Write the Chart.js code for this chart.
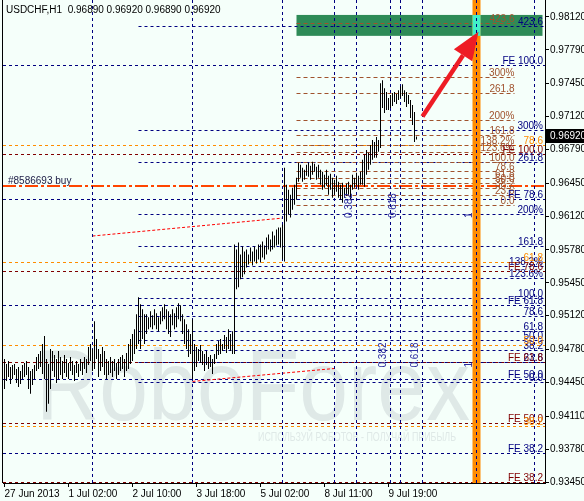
<!DOCTYPE html>
<html>
<head>
<meta charset="utf-8">
<script src="https://cdn.jsdelivr.net/npm/chart.js@4.4.1/dist/chart.umd.min.js"></script>
<style>
html, body { margin: 0; padding: 0; background: #f5fffa; }
canvas { display: block; }
</style>
</head>
<body>
<canvas id="chart" width="584" height="501"></canvas>
<script>
const symbolTitle = "USDCHF,H1";
const lastBar = [0.96890, 0.96920, 0.96890, 0.96920];

const xTickBars = [0, 32, 64, 96, 128, 160, 192];
const xTickLabels = ["27 Jun 2013", "1 Jul 02:00", "2 Jul 10:00", "3 Jul 18:00", "5 Jul 02:00", "8 Jul 11:00", "9 Jul 19:00"];
const yTicks = [0.98120, 0.97790, 0.97450, 0.97120, 0.96790, 0.96450, 0.96120, 0.95780,
                0.95450, 0.95120, 0.94780, 0.94450, 0.94110, 0.93780, 0.93450];

// hourly bars, high / low
const highs = [
  0.94685, 0.94635, 0.94665, 0.94605, 0.94625, 0.94635, 0.94585, 0.94605, 0.94565, 0.94625,
  0.94645, 0.94665, 0.94605, 0.94565, 0.94585, 0.94625, 0.94705, 0.94735, 0.94765, 0.94835,
  0.94915, 0.94685, 0.94635, 0.94785, 0.94765, 0.94725, 0.94685, 0.94765, 0.94705, 0.94665,
  0.94725, 0.94685, 0.94645, 0.94705, 0.94665, 0.94625, 0.94665, 0.94635, 0.94685, 0.94655,
  0.94705, 0.94685, 0.94805, 0.94835, 0.94785, 0.95065, 0.94885, 0.94785, 0.94735, 0.94805,
  0.94765, 0.94685, 0.94665, 0.94705, 0.94665, 0.94685, 0.94645, 0.94685, 0.94705, 0.94725,
  0.94685, 0.94745, 0.94835, 0.94885, 0.94935, 0.94985, 0.95135, 0.95305, 0.95235, 0.95185,
  0.95135, 0.95135, 0.95105, 0.95165, 0.95125, 0.95185, 0.95145, 0.95105, 0.95165, 0.95205,
  0.95235, 0.95185, 0.95165, 0.95135, 0.95185, 0.95145, 0.95205, 0.95245, 0.95225, 0.95135,
  0.95085, 0.95035, 0.94985, 0.94935, 0.95085, 0.94835, 0.94805, 0.94785, 0.94825, 0.94765,
  0.94735, 0.94765, 0.94705, 0.94725, 0.94685, 0.94735, 0.94835, 0.94865, 0.94885, 0.94835,
  0.94925, 0.94905, 0.94985, 0.94935, 0.94965, 0.95835, 0.95785, 0.95855, 0.95735, 0.95815,
  0.95765, 0.95785, 0.95735, 0.95805, 0.95765, 0.95815, 0.95785, 0.95835, 0.95835, 0.95865,
  0.95825, 0.95905, 0.95935, 0.95885, 0.95965, 0.95925, 0.95985, 0.96005, 0.96005, 0.96035,
  0.96605, 0.96435, 0.96385, 0.96335, 0.96405, 0.96435, 0.96505, 0.96655, 0.96635, 0.96605,
  0.96585, 0.96635, 0.96655, 0.96625, 0.96665, 0.96645, 0.96615, 0.96635, 0.96585, 0.96565,
  0.96535, 0.96585, 0.96525, 0.96545, 0.96505, 0.96485, 0.96525, 0.96465, 0.96435, 0.96455,
  0.96405, 0.96445, 0.96465, 0.96435, 0.96535, 0.96505, 0.96555, 0.96525, 0.96565, 0.96685,
  0.96735, 0.96785, 0.96755, 0.96835, 0.96885, 0.96865, 0.96915, 0.96885, 0.97455, 0.97485,
  0.97405, 0.97365, 0.97305, 0.97335, 0.97355, 0.97365, 0.97345, 0.97385, 0.97425, 0.97445,
  0.97385, 0.97365, 0.97335, 0.97285, 0.97235, 0.97165, 0.96920
];
const lows = [
  0.94385, 0.94465, 0.94505, 0.94435, 0.94485, 0.94525, 0.94445, 0.94405, 0.94435, 0.94485,
  0.94505, 0.94525, 0.94385, 0.94335, 0.94425, 0.94485, 0.94565, 0.94585, 0.94605, 0.94535,
  0.94485, 0.94155, 0.94235, 0.94385, 0.94565, 0.94505, 0.94445, 0.94485, 0.94525, 0.94485,
  0.94545, 0.94505, 0.94485, 0.94565, 0.94525, 0.94465, 0.94545, 0.94505, 0.94565, 0.94525,
  0.94585, 0.94545, 0.94625, 0.94665, 0.94565, 0.94585, 0.94685, 0.94505, 0.94565, 0.94605,
  0.94525, 0.94485, 0.94525, 0.94545, 0.94505, 0.94565, 0.94485, 0.94525, 0.94565, 0.94585,
  0.94505, 0.94565, 0.94585, 0.94635, 0.94665, 0.94735, 0.94785, 0.94835, 0.94785, 0.94885,
  0.94835, 0.94935, 0.94985, 0.95005, 0.94985, 0.95025, 0.94985, 0.94965, 0.95035, 0.95065,
  0.95085, 0.94985, 0.94935, 0.94905, 0.95025, 0.94985, 0.95005, 0.95085, 0.95065, 0.94935,
  0.94835, 0.94785, 0.94705, 0.94735, 0.94485, 0.94565, 0.94605, 0.94665, 0.94645, 0.94625,
  0.94565, 0.94625, 0.94585, 0.94605, 0.94535, 0.94635, 0.94685, 0.94725, 0.94735, 0.94765,
  0.94785, 0.94745, 0.94785, 0.94765, 0.94735, 0.94735, 0.95385, 0.95405, 0.95485, 0.95505,
  0.95535, 0.95605, 0.95635, 0.95665, 0.95625, 0.95665, 0.95645, 0.95685, 0.95655, 0.95705,
  0.95685, 0.95735, 0.95785, 0.95765, 0.95785, 0.95805, 0.95825, 0.95835, 0.95805, 0.95685,
  0.95665, 0.96065, 0.96135, 0.96105, 0.96185, 0.96235, 0.96285, 0.96465, 0.96505, 0.96465,
  0.96485, 0.96525, 0.96515, 0.96485, 0.96535, 0.96565, 0.96485, 0.96505, 0.96435, 0.96385,
  0.96405, 0.96425, 0.96335, 0.96385, 0.96305, 0.96335, 0.96365, 0.96305, 0.96285, 0.96255,
  0.96305, 0.96325, 0.96335, 0.96285, 0.96385, 0.96405, 0.96425, 0.96385, 0.96435, 0.96435,
  0.96415, 0.96535, 0.96585, 0.96635, 0.96685, 0.96705, 0.96705, 0.96765, 0.96805, 0.97205,
  0.97155, 0.97185, 0.97185, 0.97205, 0.97225, 0.97265, 0.97245, 0.97285, 0.97305, 0.97325,
  0.97265, 0.97215, 0.97245, 0.97105, 0.97035, 0.96865, 0.96890
];

// fibonacci objects
const fiboLabels = ["0.0", "23.6", "38.2", "50.0", "61.8", "78.6", "100.0", "123.6%", "138.2%", "161.8", "200%", "261.8", "300%", "423.6"];
const fiboBrown = [0.9623, 0.9633, 0.9640, 0.9645, 0.9650, 0.9657, 0.9666, 0.9676, 0.9683, 0.9693, 0.9709, 0.9736, 0.9752, 0.9806];
const fiboNavy = [0.9445, 0.9465, 0.9478, 0.9488, 0.9497, 0.9512, 0.9530, 0.9550, 0.9562, 0.9582, 0.9614, 0.9666, 0.9698, 0.9803];
const brownFrom = 146, brownTo = 255, navyFrom = 67;

const expLabels = ["FE 100.0", "FE 78.6", "FE 61.8", "FE 50.0", "FE 38.2"];
const expNavy = [0.9764, 0.9629, 0.9523, 0.9448, 0.9374];
const expMaroon = [0.9674, 0.9557, 0.9466, 0.9404, 0.9345];

const retrLabels = ["78.6", "61.8", "50.0", "38.2"];
const retrOrange = [0.9683, 0.9566, 0.9483, 0.9401];

const buyPrice = 0.9642;
const buyLabel = "#8586693 buy";

const timeLines = [44, 94, 139, 165, 176, 193, 198, 209, 236, 265];
const timeZoneA = { bars: [176, 198, 236], labels: ["0.382", "0.618", "1"], price: 0.9610 };
const timeZoneB = { bars: [193, 209, 236], labels: ["0.382", "0.618", "1"], price: 0.9460 };

const trendUpper = [[44, 0.9592], [139, 0.9610]];
const trendLower = [[94, 0.9446], [165, 0.9459]];

const targetBox = { from: 146, to: 269, low: 0.9793, high: 0.9814 };
const timeBand = { from: 234, to: 238 };
const arrow = [[209, 0.9712], [237, 0.9797]];

const watermark = "RoboForex";
const watermarkSub = "ИСПОЛЬЗУЙ РОБОТОВ - ПОЛУЧАЙ ПРИБЫЛЬ";

const FONT = '10px "Liberation Sans", Arial, sans-serif';
const NAVY = "#000080", BROWN = "#a0522d", MAROON = "#800000", ORANGE = "#ff8c00";

function hline(ctx, x0, x1, y, color, dash, w) {
    const yy = Math.round(y) + (w === 2 ? 0 : 0.5);
    ctx.strokeStyle = color;
    ctx.lineWidth = w || 1;
    ctx.setLineDash(dash);
    ctx.beginPath();
    ctx.moveTo(x0, yy);
    ctx.lineTo(x1, yy);
    ctx.stroke();
}

function label(ctx, text, x, y, color) {
    ctx.fillStyle = color;
    ctx.textAlign = "right";
    ctx.textBaseline = "alphabetic";
    ctx.fillText(text, x, Math.round(y) - 1);
}

const overlay = {
    id: "overlay",
    beforeDraw(chart) {
        const { ctx, width, height } = chart;
        ctx.save();
        ctx.fillStyle = "#f5fffa";
        ctx.fillRect(0, 0, width, height);
        // faint watermark
        ctx.fillStyle = "#dfe9e7";
        ctx.font = '100px "Liberation Sans", Arial, sans-serif';
        ctx.textBaseline = "alphabetic";
        ctx.textAlign = "left";
        let w = ctx.measureText(watermark).width;
        ctx.save();
        ctx.translate(36, 420);
        ctx.scale(434 / w, 1);
        ctx.fillText(watermark, 0, 0);
        ctx.restore();
        ctx.font = '12px "Liberation Sans", Arial, sans-serif';
        w = ctx.measureText(watermarkSub).width;
        ctx.save();
        ctx.translate(258, 441);
        ctx.scale(198 / w, 1);
        ctx.fillText(watermarkSub, 0, 0);
        ctx.restore();
        ctx.restore();
    },
    beforeDatasetsDraw(chart) {
        const { ctx, chartArea: a, scales: { x, y } } = chart;
        ctx.save();
        ctx.beginPath();
        ctx.rect(a.left, a.top, a.right - a.left, a.bottom - a.top);
        ctx.clip();

        // target rectangle
        ctx.fillStyle = "#2e8b57";
        const bx0 = x.getPixelForValue(targetBox.from), bx1 = x.getPixelForValue(targetBox.to);
        const by0 = y.getPixelForValue(targetBox.high), by1 = y.getPixelForValue(targetBox.low);
        ctx.fillRect(bx0, by0, bx1 - bx0, by1 - by0);

        // full width levels
        expNavy.forEach(p => hline(ctx, a.left, a.right, y.getPixelForValue(p), NAVY, [3, 3]));
        expMaroon.forEach(p => hline(ctx, a.left, a.right, y.getPixelForValue(p), MAROON, [3, 3]));
        retrOrange.forEach(p => hline(ctx, a.left, a.right, y.getPixelForValue(p), ORANGE, [3, 3]));

        // fibo expansions
        const nx0 = x.getPixelForValue(navyFrom);
        fiboNavy.forEach(p => hline(ctx, nx0, a.right, y.getPixelForValue(p), NAVY, [3, 3]));
        const rx0 = x.getPixelForValue(brownFrom), rx1 = x.getPixelForValue(brownTo);
        fiboBrown.forEach(p => hline(ctx, rx0, rx1, y.getPixelForValue(p), BROWN, [4, 3]));

        // order line
        hline(ctx, a.left, a.right, y.getPixelForValue(buyPrice), "#ff4500", [13, 3, 3, 3], 2);

        // trend lines
        ctx.strokeStyle = "#ff0000";
        ctx.lineWidth = 1;
        ctx.setLineDash([3, 2]);
        [trendUpper, trendLower].forEach(t => {
            ctx.beginPath();
            ctx.moveTo(x.getPixelForValue(t[0][0]), y.getPixelForValue(t[0][1]));
            ctx.lineTo(x.getPixelForValue(t[1][0]), y.getPixelForValue(t[1][1]));
            ctx.stroke();
        });

        // vertical time band
        const tx0 = x.getPixelForValue(timeBand.from), tx1 = x.getPixelForValue(timeBand.to);
        ctx.fillStyle = "#ff8c00";
        ctx.fillRect(tx0, a.top, tx1 - tx0, a.bottom - a.top);
        ctx.fillStyle = "#40f0c8";
        ctx.fillRect(tx0, by0, tx1 - tx0, by1 - by0);

        // fibo time lines
        ctx.strokeStyle = NAVY;
        ctx.setLineDash([3, 3]);
        timeLines.forEach(b => {
            const px = Math.round(x.getPixelForValue(b) - 0.5) + 0.5;
            ctx.beginPath();
            ctx.moveTo(px, a.top);
            ctx.lineTo(px, a.bottom);
            ctx.stroke();
        });
        ctx.restore();
    },
    afterDatasetsDraw(chart) {
        const { ctx, chartArea: a, scales: { x, y } } = chart;
        ctx.save();
        ctx.font = FONT;
        const rightX = a.right - 2;
        const brownX = x.getPixelForValue(brownTo);
        fiboNavy.forEach((p, i) => label(ctx, fiboLabels[i], rightX, y.getPixelForValue(p), NAVY));
        fiboBrown.forEach((p, i) => label(ctx, fiboLabels[i], brownX, y.getPixelForValue(p), BROWN));
        expNavy.forEach((p, i) => label(ctx, expLabels[i], rightX, y.getPixelForValue(p), NAVY));
        expMaroon.forEach((p, i) => label(ctx, expLabels[i], rightX, y.getPixelForValue(p), MAROON));
        retrOrange.forEach((p, i) => label(ctx, retrLabels[i], rightX, y.getPixelForValue(p), ORANGE));

        ctx.fillStyle = "#202048";
        ctx.textAlign = "left";
        ctx.fillText(buyLabel, a.left + 5, Math.round(y.getPixelForValue(buyPrice)) - 2);

        // rotated time zone labels
        ctx.fillStyle = "#2a2aa0";
        [timeZoneA, timeZoneB].forEach(z => {
            z.bars.forEach((b, i) => {
                ctx.save();
                ctx.translate(x.getPixelForValue(b) - 2, y.getPixelForValue(z.price));
                ctx.rotate(-Math.PI / 2);
                ctx.textAlign = "left";
                ctx.textBaseline = "bottom";
                ctx.fillText(z.labels[i], 0, 0);
                ctx.restore();
            });
        });

        // arrow
        const ax0 = x.getPixelForValue(arrow[0][0]), ay0 = y.getPixelForValue(arrow[0][1]);
        const ax1 = x.getPixelForValue(arrow[1][0]), ay1 = y.getPixelForValue(arrow[1][1]);
        const ang = Math.atan2(ay1 - ay0, ax1 - ax0);
        const head = 28, half = 11;
        const hx = ax1 - head * Math.cos(ang), hy = ay1 - head * Math.sin(ang);
        ctx.strokeStyle = "#ee1c24";
        ctx.fillStyle = "#ee1c24";
        ctx.lineWidth = 4.5;
        ctx.setLineDash([]);
        ctx.beginPath();
        ctx.moveTo(ax0, ay0);
        ctx.lineTo(hx, hy);
        ctx.stroke();
        ctx.beginPath();
        ctx.moveTo(ax1, ay1);
        ctx.lineTo(hx + half * Math.sin(ang), hy - half * Math.cos(ang));
        ctx.lineTo(hx - half * Math.sin(ang), hy + half * Math.cos(ang));
        ctx.closePath();
        ctx.fill();

        // header
        ctx.fillStyle = "#000";
        ctx.textAlign = "left";
        ctx.textBaseline = "alphabetic";
        ctx.fillText(symbolTitle + "  " + lastBar.map(v => v.toFixed(5)).join(" "), 6, 13);
        ctx.restore();
    },
    afterDraw(chart) {
        const { ctx, chartArea: a, scales: { y } } = chart;
        ctx.save();
        // left frame line
        ctx.strokeStyle = "#000";
        ctx.lineWidth = 1;
        ctx.beginPath();
        ctx.moveTo(a.left - 0.5, a.top);
        ctx.lineTo(a.left - 0.5, a.bottom);
        ctx.stroke();
        // current price tag
        const py = Math.round(y.getPixelForValue(lastBar[3]));
        ctx.fillStyle = "#000";
        ctx.fillRect(a.right + 1, py - 7, 40, 14);
        ctx.fillStyle = "#fff";
        ctx.font = FONT;
        ctx.textAlign = "left";
        ctx.textBaseline = "middle";
        ctx.fillText(lastBar[3].toFixed(5), a.right + 5, py);
        ctx.restore();
    }
};

new Chart(document.getElementById("chart"), {
    type: "bar",
    data: {
        datasets: [{
            data: highs.map((h, i) => ({ x: i, y: [lows[i], h] })),
            backgroundColor: "#000",
            borderWidth: 0,
            inflateAmount: 0,
            barThickness: 1
        }]
    },
    options: {
        responsive: false,
        animation: false,
        devicePixelRatio: 1,
        layout: { padding: { left: 3, top: 0, right: 0, bottom: 0 }, autoPadding: false },
        plugins: { legend: { display: false }, tooltip: { enabled: false } },
        scales: {
            x: {
                type: "linear",
                offset: false,
                min: -0.75,
                max: 270.25,
                grid: { offset: false, drawOnChartArea: false, drawTicks: true, tickLength: 4, color: "#000" },
                border: { display: true, color: "#000" },
                ticks: {
                    autoSkip: false, maxRotation: 0, align: "start", padding: 1, color: "#000",
                    font: { family: "Liberation Sans", size: 10 },
                    callback: (v, i) => xTickLabels[i]
                },
                afterBuildTicks: s => { s.ticks = xTickBars.map(v => ({ value: v })); },
                afterFit: s => { s.height = 18; s.paddingLeft = 0; s.paddingRight = 0; }
            },
            y: {
                position: "right",
                min: 0.9344,
                max: 0.9829,
                grid: { drawOnChartArea: false, drawTicks: true, tickLength: 4, color: "#000" },
                border: { display: true, color: "#000" },
                ticks: {
                    autoSkip: false, padding: 1, color: "#000",
                    font: { family: "Liberation Sans", size: 10 },
                    callback: v => v.toFixed(5)
                },
                afterBuildTicks: s => { s.ticks = yTicks.slice().sort((p, q) => p - q).map(v => ({ value: v })); },
                afterFit: s => { s.width = 39; s.paddingTop = 0; s.paddingBottom = 0; }
            }
        }
    },
    plugins: [overlay]
});
</script>
</body>
</html>
